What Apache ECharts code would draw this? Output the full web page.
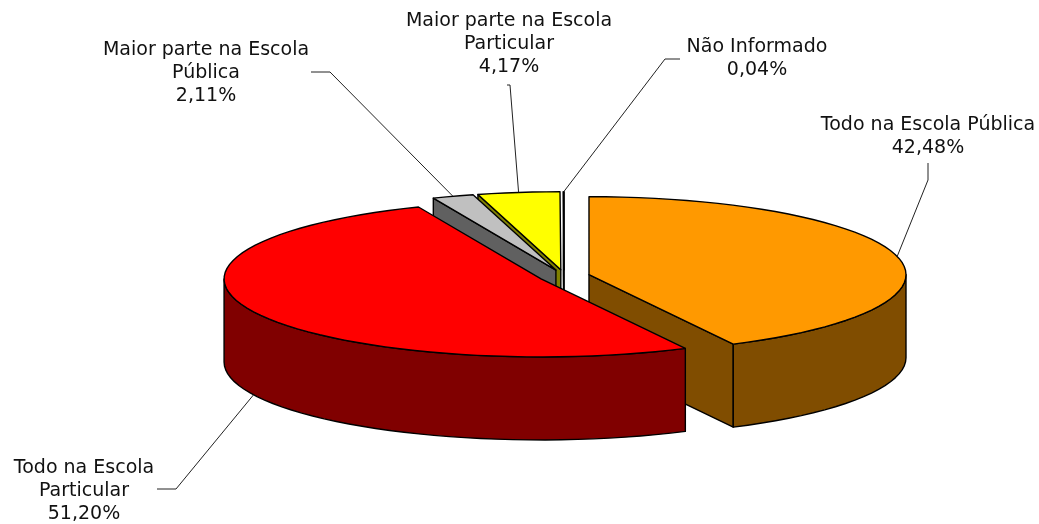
<!DOCTYPE html>
<html>
<head>
<meta charset="utf-8">
<style>html,body{margin:0;padding:0;background:#fff}#c{width:1039px;height:524px}</style>
<script src="https://cdn.jsdelivr.net/npm/echarts@6/dist/echarts.min.js"></script>
</head>
<body>
<div id="c"></div>
<script>
// Data, clockwise from 12 o'clock
const categories = ['Todo na Escola Pública', 'Todo na Escola\nParticular', 'Maior parte na Escola\nPública', 'Maior parte na Escola\nParticular', 'Não Informado'];
const values = [42.48, 51.20, 2.11, 4.17, 0.04];

// Styles and layout
const topColors = ['#FF9900', '#FF0000', '#C0C0C0', '#FFFF00', '#FFFFFF'];
const sideColors = ['#804D00', '#800000', '#606060', '#808000', '#808080'];
const paintOrder = [4, 0, 3, 2, 1];
const pie = { cx: 564.2, cy: 276.2, rx: 317, ry: 78, depth: 83, explodeX: 25.5, explodeY: 6.5 };
const labelCenters = [[928, 137], [84, 491], [206, 73], [509, 44], [757, 58.5]];
const leaderElbows = [[[928, 163], [928, 180]], [[157, 489], [176, 489]], [[311, 72], [330, 72]], [[507, 85], [510, 85]], [[680, 59], [665, 59]]];

const rad = d => d * Math.PI / 180;
const total = values.reduce((a, b) => a + b, 0);
let acc = 0;
const slices = values.map(v => {
  const s = acc / total * 360;
  acc += v;
  const e = acc / total * 360;
  const m = (s + e) / 2;
  return { s, e, m, ox: pie.cx + pie.explodeX * Math.sin(rad(m)), oy: pie.cy - pie.explodeY * Math.cos(rad(m)) };
});
const rim = (sl, a, drop) => [sl.ox + pie.rx * Math.sin(rad(a)), sl.oy - pie.ry * Math.cos(rad(a)) + (drop || 0)];
function arc(sl, a, b, drop) {
  const n = Math.max(1, Math.ceil((b - a) / 3));
  const pts = [];
  for (let i = 0; i <= n; i++) pts.push(rim(sl, a + (b - a) * i / n, drop));
  return pts;
}
const edge = { stroke: '#000', lineWidth: 1.4, lineJoin: 'round' };
function poly(points, fill) {
  return { type: 'polygon', shape: { points }, style: Object.assign({ fill }, edge) };
}
function renderItem(params) {
  const i = paintOrder[params.dataIndex];
  const sl = slices[i], d = pie.depth, kids = [];
  const o = [sl.ox, sl.oy], od = [sl.ox, sl.oy + d];
  const face = a => poly([o, rim(sl, a), rim(sl, a, d), od], sideColors[i]);
  if (Math.sin(rad(sl.s)) < -1e-6) kids.push(face(sl.s));
  if (Math.sin(rad(sl.e)) > 1e-6) kids.push(face(sl.e));
  const w0 = Math.max(sl.s, 90), w1 = Math.min(sl.e, 270);
  if (w1 > w0) kids.push(poly(arc(sl, w0, w1).concat(arc(sl, w0, w1, d).reverse()), sideColors[i]));
  kids.push(poly([o].concat(arc(sl, sl.s, sl.e)), topColors[i]));
  const anchor = rim(sl, sl.m, sl.m > 90 && sl.m < 270 ? d : 0);
  kids.push({ type: 'polyline', shape: { points: leaderElbows[i].concat([anchor]) }, style: { fill: null, stroke: '#222', lineWidth: 1 } });
  kids.push({ type: 'text', style: {
    text: categories[i] + '\n' + values[i].toFixed(2).replace('.', ',') + '%',
    x: labelCenters[i][0], y: labelCenters[i][1], align: 'center', verticalAlign: 'middle',
    font: '19px "DejaVu Sans"', lineHeight: 23, fill: '#111' } });
  return { type: 'group', children: kids };
}
const chart = echarts.init(document.getElementById('c'));
chart.setOption({
  animation: false,
  backgroundColor: '#fff',
  series: [{ type: 'custom', coordinateSystem: 'none', renderItem, silent: true,
    data: paintOrder.map(i => values[i]) }]
});
</script>
</body>
</html>
